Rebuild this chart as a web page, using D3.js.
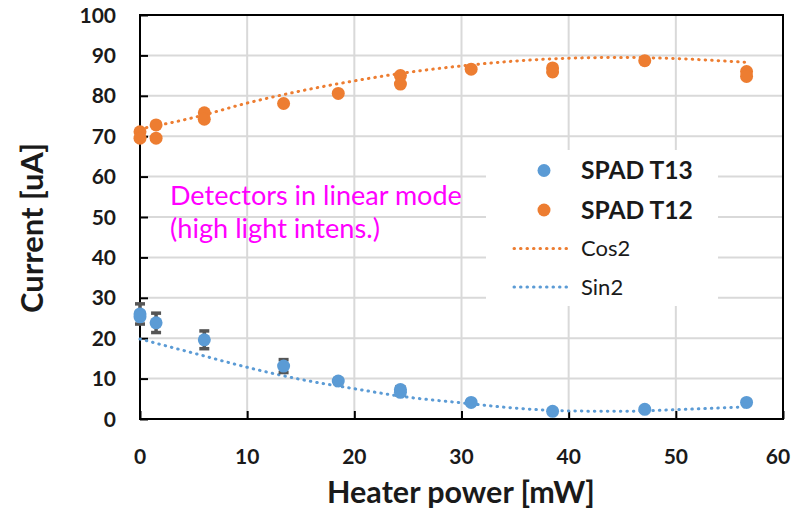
<!DOCTYPE html>
<html>
<head>
<meta charset="utf-8">
<title>SPAD current vs heater power</title>
<script src="https://cdn.jsdelivr.net/npm/d3@7"></script>
<style>
  body { margin: 0; background: #fff; }
  svg { font-family: Lato, "Open Sans", sans-serif; }
</style>
</head>
<body>
<div id="chart"></div>
<script>
// data
var xT13 = [0, 0, 1.5, 6, 13.4, 18.5, 24.3, 24.3, 30.9, 38.5, 47.1, 56.6];
var yT13 = [26.0, 25.3, 23.8, 19.6, 13.1, 9.4, 7.3, 6.6, 4.1, 1.9, 2.4, 4.1];
var eT13 = [2.5, 0, 2.4, 2.2, 1.6, 0.6, 0.7, 0.7, 0.5, 0.5, 0.5, 0.5];

var xT12 = [0, 0, 1.5, 1.5, 6, 6, 13.4, 18.5, 24.3, 24.3, 30.9, 38.5, 38.5, 47.1, 56.6, 56.6];
var yT12 = [71.1, 69.5, 72.8, 69.5, 75.8, 74.2, 78.1, 80.6, 85.0, 82.9, 86.6, 86.9, 85.9, 88.7, 86.0, 84.8];

// fitted curves
var xFit = [0, 5, 10, 15, 20, 25, 30, 35, 40, 45, 50, 56.5];
var yCos2 = [71.8, 74.6, 78.2, 81.2, 83.7, 85.8, 87.4, 88.6, 89.3, 89.5, 89.2, 88.3];
var ySin2 = [19.8, 16.3, 12.8, 9.8, 7.5, 5.4, 4.0, 2.7, 2.0, 1.9, 2.3, 3.0];

var xTicks = [0, 10, 20, 30, 40, 50, 60];
var yTicks = [0, 10, 20, 30, 40, 50, 60, 70, 80, 90, 100];

var w = 792, h = 513;
var blue = "#5B9BD5", orange = "#ED7D31", grid = "#D9D9D9";

var svg = d3.select("#chart").append("svg")
    .attr("width", w)
    .attr("height", h);

var x = d3.scaleLinear().domain([0, 60]).range([140, 783]);
var y = d3.scaleLinear().domain([0, 100]).range([419, 15]);

// fit a text element to a given width
function fit(sel, target) {
    var len = sel.node().getComputedTextLength();
    var fs = parseFloat(sel.attr("font-size"));
    sel.attr("font-size", fs * target / len);
    return sel;
}

// grid lines
svg.append("g").selectAll("line.h")
    .data(yTicks.slice(1, -1))
    .enter().append("line")
    .attr("x1", x(0)).attr("x2", x(60))
    .attr("y1", function (d) { return y(d); })
    .attr("y2", function (d) { return y(d); })
    .attr("stroke", grid).attr("stroke-width", 2);
svg.append("g").selectAll("line.v")
    .data(xTicks.slice(1, -1))
    .enter().append("line")
    .attr("y1", y(0)).attr("y2", y(100))
    .attr("x1", function (d) { return x(d); })
    .attr("x2", function (d) { return x(d); })
    .attr("stroke", grid).attr("stroke-width", 2);

// axes with inward ticks
svg.append("g")
    .attr("transform", "translate(" + x(0) + ",0)")
    .call(d3.axisRight(y).tickValues(yTicks).tickSize(8).tickFormat(""))
    .call(function (g) {
        g.select(".domain").remove();
        g.selectAll("line").attr("stroke", "#000").attr("stroke-width", 2);
    });
svg.append("g")
    .attr("transform", "translate(0," + y(0) + ")")
    .call(d3.axisTop(x).tickValues(xTicks).tickSize(8).tickFormat(""))
    .call(function (g) {
        g.select(".domain").remove();
        g.selectAll("line").attr("stroke", "#000").attr("stroke-width", 2);
    });

// frame
svg.append("rect")
    .attr("x", x(0)).attr("y", y(100))
    .attr("width", x(60) - x(0)).attr("height", y(0) - y(100))
    .attr("fill", "none").attr("stroke", "#000").attr("stroke-width", 2);

// tick labels
svg.append("g").selectAll("text")
    .data(yTicks)
    .enter().append("text")
    .text(function (d) { return d; })
    .attr("x", 116)
    .attr("y", function (d) { return y(d); })
    .attr("dy", "0.36em")
    .attr("text-anchor", "end")
    .attr("font-size", 21)
    .attr("font-weight", "bold")
    .attr("fill", "#1a1a1a");
svg.append("g").selectAll("text")
    .data(xTicks)
    .enter().append("text")
    .text(function (d) { return d; })
    .attr("x", function (d) { return Math.min(x(d), 778); })
    .attr("y", 464)
    .attr("text-anchor", "middle")
    .attr("font-size", 21)
    .attr("font-weight", "bold")
    .attr("fill", "#1a1a1a");

// axis titles
fit(svg.append("text")
    .text("Heater power [mW]")
    .attr("x", 461).attr("y", 503)
    .attr("text-anchor", "middle")
    .attr("font-size", 26)
    .attr("font-weight", "bold")
    .attr("fill", "#1a1a1a"), 268);
fit(svg.append("text")
    .text("Current [uA]")
    .attr("transform", "translate(43,228) rotate(-90)")
    .attr("text-anchor", "middle")
    .attr("font-size", 26)
    .attr("font-weight", "bold")
    .attr("fill", "#1a1a1a"), 170);

// annotation
fit(svg.append("text")
    .text("Detectors in linear mode")
    .attr("x", 170).attr("y", 205)
    .attr("font-size", 24)
    .attr("fill", "#FF00FF"), 292);
fit(svg.append("text")
    .text("(high light intens.)")
    .attr("x", 170).attr("y", 238)
    .attr("font-size", 24)
    .attr("fill", "#FF00FF"), 210);

// fitted curves
var line = d3.line()
    .x(function (d) { return x(d[0]); })
    .y(function (d) { return y(d[1]); })
    .curve(d3.curveMonotoneX);

function dotted(path, color) {
    return path.attr("fill", "none")
        .attr("stroke", color)
        .attr("stroke-width", 3)
        .attr("stroke-linecap", "round")
        .attr("stroke-dasharray", "0.5,6");
}

dotted(svg.append("path").attr("d", line(d3.zip(xFit, yCos2))), orange);
dotted(svg.append("path").attr("d", line(d3.zip(xFit, ySin2))), blue);

// error bars for T13
var t13 = d3.zip(xT13, yT13, eT13);
var eb = svg.append("g").selectAll("g")
    .data(t13.filter(function (d) { return d[2] > 0; }))
    .enter().append("g")
    .attr("stroke", "#555")
    .attr("stroke-width", 3.5);
eb.append("line")
    .attr("x1", function (d) { return x(d[0]); })
    .attr("x2", function (d) { return x(d[0]); })
    .attr("y1", function (d) { return y(d[1] - d[2]); })
    .attr("y2", function (d) { return y(d[1] + d[2]); });
[-1, 1].forEach(function (s) {
    eb.append("line")
        .attr("x1", function (d) { return x(d[0]) - 5; })
        .attr("x2", function (d) { return x(d[0]) + 5; })
        .attr("y1", function (d) { return y(d[1] + s * d[2]); })
        .attr("y2", function (d) { return y(d[1] + s * d[2]); });
});

// points
svg.append("g").selectAll("circle")
    .data(t13)
    .enter().append("circle")
    .attr("cx", function (d) { return x(d[0]); })
    .attr("cy", function (d) { return y(d[1]); })
    .attr("r", 6.5)
    .attr("fill", blue);
svg.append("g").selectAll("circle")
    .data(d3.zip(xT12, yT12))
    .enter().append("circle")
    .attr("cx", function (d) { return x(d[0]); })
    .attr("cy", function (d) { return y(d[1]); })
    .attr("r", 6.5)
    .attr("fill", orange);

// legend
var leg = svg.append("g");
leg.append("rect")
    .attr("x", 486).attr("y", 150)
    .attr("width", 232).attr("height", 156)
    .attr("fill", "#fff");
var legItems = [
    { label: "SPAD T13", color: blue, type: "dot", cy: 170.5 },
    { label: "SPAD T12", color: orange, type: "dot", cy: 210 },
    { label: "Cos2", color: orange, type: "line", cy: 248.5 },
    { label: "Sin2", color: blue, type: "line", cy: 287 }
];
legItems.forEach(function (d) {
    if (d.type == "dot") {
        leg.append("circle").attr("cx", 544).attr("cy", d.cy).attr("r", 6.5).attr("fill", d.color);
        fit(leg.append("text")
            .text(d.label)
            .attr("x", 581).attr("y", d.cy)
            .attr("dy", "0.36em")
            .attr("font-size", 22)
            .attr("font-weight", "bold")
            .attr("fill", "#1a1a1a"), 112);
    } else {
        dotted(leg.append("line")
            .attr("x1", 514).attr("x2", 570)
            .attr("y1", d.cy).attr("y2", d.cy), d.color);
        leg.append("text")
            .text(d.label)
            .attr("x", 581).attr("y", d.cy)
            .attr("dy", "0.36em")
            .attr("font-size", 22)
            .attr("fill", "#1a1a1a");
    }
});
</script>
</body>
</html>
